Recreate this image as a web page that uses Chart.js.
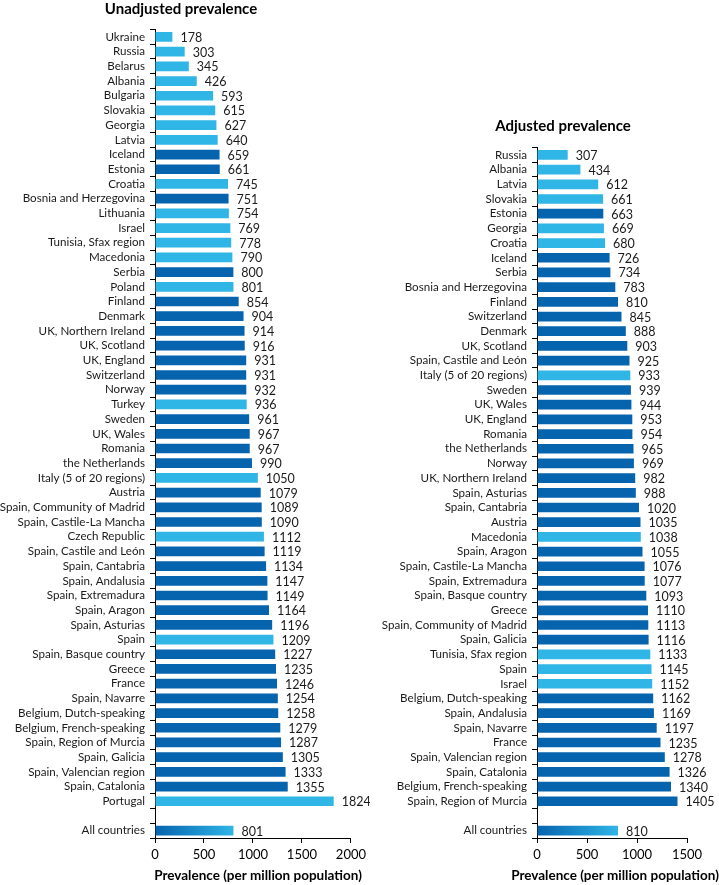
<!DOCTYPE html>
<html>
<head>
<meta charset="utf-8">
<title>Prevalence</title>
<script src="https://cdn.jsdelivr.net/npm/chart.js@4.4.1/dist/chart.umd.min.js"></script>
<style>
  body { margin: 0; background: #fff; }
  #unadjChart { position: absolute; left: 0; top: 0; }
  #adjChart { position: absolute; left: 380px; top: 0; }
</style>
</head>
<body>
<canvas id="unadjChart" width="370" height="885"></canvas>
<canvas id="adjChart" width="339" height="885"></canvas>
<script>
// Unadjusted prevalence (per million population), top to bottom
const unadjLabels = ['Ukraine', 'Russia', 'Belarus', 'Albania', 'Bulgaria', 'Slovakia', 'Georgia', 'Latvia', 'Iceland', 'Estonia',
  'Croatia', 'Bosnia and Herzegovina', 'Lithuania', 'Israel', 'Tunisia, Sfax region', 'Macedonia', 'Serbia', 'Poland', 'Finland', 'Denmark',
  'UK, Northern Ireland', 'UK, Scotland', 'UK, England', 'Switzerland', 'Norway', 'Turkey', 'Sweden', 'UK, Wales', 'Romania', 'the Netherlands',
  'Italy (5 of 20 regions)', 'Austria', 'Spain, Community of Madrid', 'Spain, Castile-La Mancha', 'Czech Republic', 'Spain, Castile and León',
  'Spain, Cantabria', 'Spain, Andalusia', 'Spain, Extremadura', 'Spain, Aragon', 'Spain, Asturias', 'Spain', 'Spain, Basque country', 'Greece',
  'France', 'Spain, Navarre', 'Belgium, Dutch-speaking', 'Belgium, French-speaking', 'Spain, Region of Murcia', 'Spain, Galicia',
  'Spain, Valencian region', 'Spain, Catalonia', 'Portugal', '', 'All countries'];
const unadjValues = [178, 303, 345, 426, 593, 615, 627, 640, 659, 661,
  745, 751, 754, 769, 778, 790, 800, 801, 854, 904,
  914, 916, 931, 931, 932, 936, 961, 967, 967, 990,
  1050, 1079, 1089, 1090, 1112, 1119,
  1134, 1147, 1149, 1164, 1196, 1209, 1227, 1235,
  1246, 1254, 1258, 1279, 1287, 1305,
  1333, 1355, 1824, null, 801];
// registries drawn in light blue
const unadjLight = ['Ukraine', 'Russia', 'Belarus', 'Albania', 'Bulgaria', 'Slovakia', 'Georgia', 'Latvia', 'Croatia', 'Lithuania',
  'Israel', 'Tunisia, Sfax region', 'Macedonia', 'Poland', 'Turkey', 'Italy (5 of 20 regions)', 'Czech Republic', 'Spain', 'Portugal'];

// Adjusted prevalence (per million population), top to bottom
const adjLabels = ['Russia', 'Albania', 'Latvia', 'Slovakia', 'Estonia', 'Georgia', 'Croatia', 'Iceland', 'Serbia', 'Bosnia and Herzegovina',
  'Finland', 'Switzerland', 'Denmark', 'UK, Scotland', 'Spain, Castile and León', 'Italy (5 of 20 regions)', 'Sweden', 'UK, Wales',
  'UK, England', 'Romania', 'the Netherlands', 'Norway', 'UK, Northern Ireland', 'Spain, Asturias', 'Spain, Cantabria', 'Austria',
  'Macedonia', 'Spain, Aragon', 'Spain, Castile-La Mancha', 'Spain, Extremadura', 'Spain, Basque country', 'Greece',
  'Spain, Community of Madrid', 'Spain, Galicia', 'Tunisia, Sfax region', 'Spain', 'Israel', 'Belgium, Dutch-speaking',
  'Spain, Andalusia', 'Spain, Navarre', 'France', 'Spain, Valencian region', 'Spain, Catalonia', 'Belgium, French-speaking',
  'Spain, Region of Murcia', '', 'All countries'];
const adjValues = [307, 434, 612, 661, 663, 669, 680, 726, 734, 783,
  810, 845, 888, 903, 925, 933, 939, 944,
  953, 954, 965, 969, 982, 988, 1020, 1035,
  1038, 1055, 1076, 1077, 1093, 1110,
  1113, 1116, 1133, 1145, 1152, 1162,
  1169, 1197, 1235, 1278, 1326, 1340,
  1405, null, 810];
const adjLight = ['Russia', 'Albania', 'Latvia', 'Slovakia', 'Georgia', 'Croatia', 'Italy (5 of 20 regions)', 'Macedonia',
  'Tunisia, Sfax region', 'Spain', 'Israel'];

const darkBlue = '#0663ae';
const lightBlue = '#2fb5e6';
const fontFamily = 'Lato, "Open Sans", sans-serif';

// bar colour: light / dark, gradient for the "All countries" total
function barColor(labels, lightList) {
  return function (ctx) {
    const name = labels[ctx.dataIndex];
    if (name === 'All countries') {
      const chart = ctx.chart;
      if (!chart.chartArea || !chart.scales.x) return darkBlue;
      const x0 = chart.scales.x.getPixelForValue(0);
      const x1 = chart.scales.x.getPixelForValue(ctx.raw);
      const g = chart.ctx.createLinearGradient(x0, 0, x1, 0);
      g.addColorStop(0, darkBlue);
      g.addColorStop(1, lightBlue);
      return g;
    }
    return lightList.includes(name) ? lightBlue : darkBlue;
  };
}

// value labels at the end of each bar + panel title + axis title
const panelText = {
  id: 'panelText',
  afterDatasetsDraw: (chart, args, opts) => {
    const ctx = chart.ctx;
    const meta = chart.getDatasetMeta(0);
    const data = chart.data.datasets[0].data;
    ctx.save();
    ctx.font = '12.5px ' + fontFamily;
    ctx.fillStyle = '#1a1a1a';
    ctx.textAlign = 'left';
    ctx.textBaseline = 'middle';
    meta.data.forEach((bar, i) => {
      if (data[i] == null) return;
      ctx.fillText(data[i], bar.x + 8, bar.y + 1);
    });

    ctx.fillStyle = '#000';
    ctx.textAlign = 'center';
    ctx.font = 'bold 15px ' + fontFamily;
    ctx.fillText(opts.title, opts.titleX, opts.titleY);
    ctx.font = 'bold 13.5px ' + fontFamily;
    ctx.fillText('Prevalence (per million population)', opts.axisX, opts.axisY);
    ctx.restore();
  }
};

function makeChart(id, labels, values, lightList, xMax, pad, yWidth, text) {
  return new Chart(document.getElementById(id).getContext('2d'), {
    type: 'bar',
    data: {
      labels: labels,
      datasets: [{
        data: values,
        backgroundColor: barColor(labels, lightList),
        categoryPercentage: 1,
        barPercentage: 0.66
      }]
    },
    options: {
      indexAxis: 'y',
      responsive: false,
      animation: false,
      layout: { padding: pad },
      plugins: {
        legend: { display: false },
        tooltip: { enabled: false },
        panelText: text
      },
      scales: {
        x: {
          min: 0,
          max: xMax,
          ticks: {
            stepSize: 500,
            color: '#000',
            font: { family: fontFamily, size: 13 },
            padding: 4,
            callback: (v) => String(v)
          },
          grid: { drawOnChartArea: false, drawTicks: true, tickLength: 5, color: '#000' },
          border: { color: '#000' },
          afterFit: (scale) => { scale.height = 47; }
        },
        y: {
          ticks: { color: '#1a1a1a', font: { family: fontFamily, size: 11.6 }, padding: 5, autoSkip: false },
          grid: { offset: true, drawOnChartArea: false, drawTicks: true, tickLength: 5, color: '#000' },
          border: { color: '#000' },
          afterFit: (scale) => { scale.width = yWidth; }
        }
      }
    },
    plugins: [panelText]
  });
}

//#region unadjusted
makeChart('unadjChart', unadjLabels, unadjValues, unadjLight, 2000,
  { left: 0, right: 13, top: 29.6, bottom: 0 }, 155,
  { title: 'Unadjusted prevalence', titleX: 181, titleY: 9, axisX: 258, axisY: 876 });
//#endregion

//#region adjusted
makeChart('adjChart', adjLabels, adjValues, adjLight, 1500,
  { left: 0, right: 32, top: 147.6, bottom: 0 }, 157,
  { title: 'Adjusted prevalence', titleX: 183, titleY: 126, axisX: 235, axisY: 876 });
//#endregion
</script>
</body>
</html>
